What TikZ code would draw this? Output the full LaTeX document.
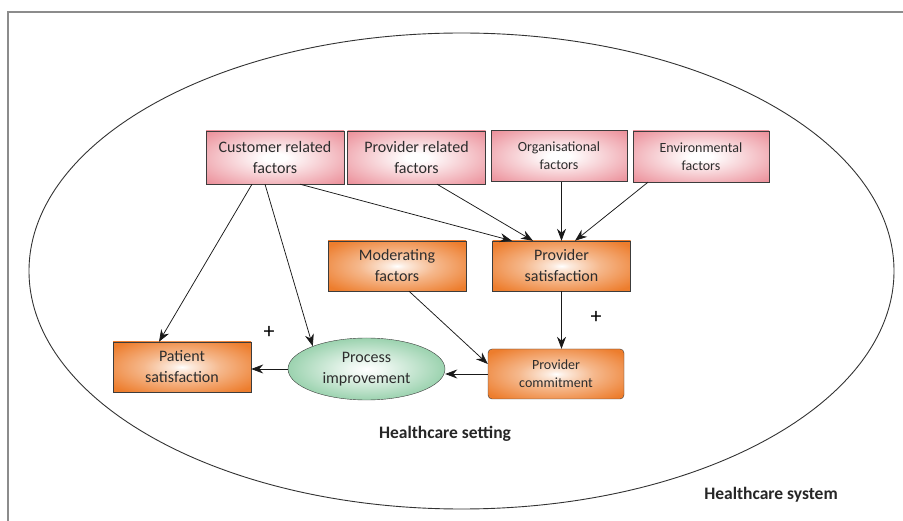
\documentclass[tikz,border=0pt]{standalone}
\usepackage{fontspec}
\setmainfont{Carlito}
\usetikzlibrary{arrows.meta,shapes.geometric}
\definecolor{pinkedge}{RGB}{236,146,156}
\definecolor{orangeedge}{RGB}{237,125,45}
\definecolor{greenedge}{RGB}{92,182,124}
\definecolor{textgray}{RGB}{45,45,45}
\definecolor{boxline}{RGB}{60,60,60}
\pgfdeclareradialshading{pinkglow}{\pgfpointorigin}{color(0bp)=(white); color(4bp)=(white); color(34bp)=(pinkedge); color(50bp)=(pinkedge)}
\pgfdeclareradialshading{orangeglow}{\pgfpointorigin}{color(0bp)=(white); color(3bp)=(orangeedge!15); color(14bp)=(orangeedge!55); color(32bp)=(orangeedge); color(50bp)=(orangeedge)}
\pgfdeclareradialshading{greenglow}{\pgfpointorigin}{color(0bp)=(white); color(6bp)=(greenedge!12); color(40bp)=(greenedge); color(50bp)=(greenedge)}
\begin{document}
\begin{tikzpicture}[x=1pt, y=-1pt,
    every node/.style={text=textgray, align=center},
    factor/.style={draw=boxline, shading=pinkglow, minimum width=138pt, minimum height=53pt, inner sep=2pt, font=\fontsize{16}{21}\selectfont},
    smallfactor/.style={factor, minimum width=136pt, minimum height=51pt, font=\fontsize{14}{18}\selectfont},
    driver/.style={draw=boxline, shading=orangeglow, minimum width=138pt, minimum height=50pt, inner sep=2pt, font=\fontsize{16}{21}\selectfont},
    link/.style={draw=black!90, line width=0.75pt, -{Stealth[length=12pt, width=9pt]}},
    plus/.style={text=black, font=\fontsize{22}{22}\selectfont},
    areatitle/.style={text=black!85, font=\bfseries\fontsize{17.5}{20}\selectfont}]
    \useasboundingbox (0,0) rectangle (903,521);
    % Frame and healthcare setting
    \draw[gray!90, line width=1.5pt] (903,12) -- (8,12) -- (8,521);
    \draw[black!80, line width=0.9pt] (461.5,271) ellipse [x radius=432.5, y radius=238];
    % Factors
    \node[factor] (cust) at (275,157.5) {Customer related\\factors};
    \node[factor] (prov) at (416.5,157.5) {Provider related\\factors};
    \node[smallfactor] (org) at (559,156) {Organisational\\factors};
    \node[smallfactor] (env) at (701,156.5) {Environmental\\factors};
    \node[driver] (mod) at (397,266) {Moderating\\factors};
    \node[driver] (psat) at (561.5,266) {Provider\\satisfaction};
    % Outcomes
    \node[driver] (pat) at (182,367) {Patient\\satisfaction};
    \node[driver, rounded corners=4pt, minimum width=136pt, font=\fontsize{14}{18}\selectfont] (pcom) at (556,374) {Provider\\commitment};
    \node[ellipse, draw=boxline, shading=greenglow, minimum width=157pt, minimum height=62pt, inner sep=0pt, font=\fontsize{16}{21}\selectfont] (proc) at (366.5,369) {Process\\improvement};
    % Links
    \draw[link] ([xshift=-23pt]cust.south) -- ([xshift=-23pt]pat.north);
    \draw[link] ([xshift=-10pt]cust.south) -- (proc.157);
    \draw[link] ([xshift=25pt]cust.south) -- ([xshift=-49.5pt]psat.north);
    \draw[link] ([xshift=20.5pt]prov.south) -- ([xshift=-28.5pt]psat.north);
    \draw[link] (org.south -| psat.north) -- (psat.north);
    \draw[link] ([xshift=-53pt]env.south) -- ([xshift=13.5pt]psat.north);
    \draw[link] ([xshift=12pt]mod.south) -- ([yshift=10pt]pcom.west);
    \draw[link] (psat.south) -- (psat.south |- pcom.north);
    \draw[link] (pcom.west) -- (pcom.west -| proc.east);
    \draw[link] (proc.west) -- (proc.west -| pat.east);
    \node[plus] (plusa) at (269,332) {+};
    \node[plus] (plusb) at (596,317) {+};
    % Area titles
    \node[areatitle] (setting) at (445,434) {Healthcare setting};
    \node[areatitle] (system) at (771,495) {Healthcare system};
\end{tikzpicture}
\end{document}
